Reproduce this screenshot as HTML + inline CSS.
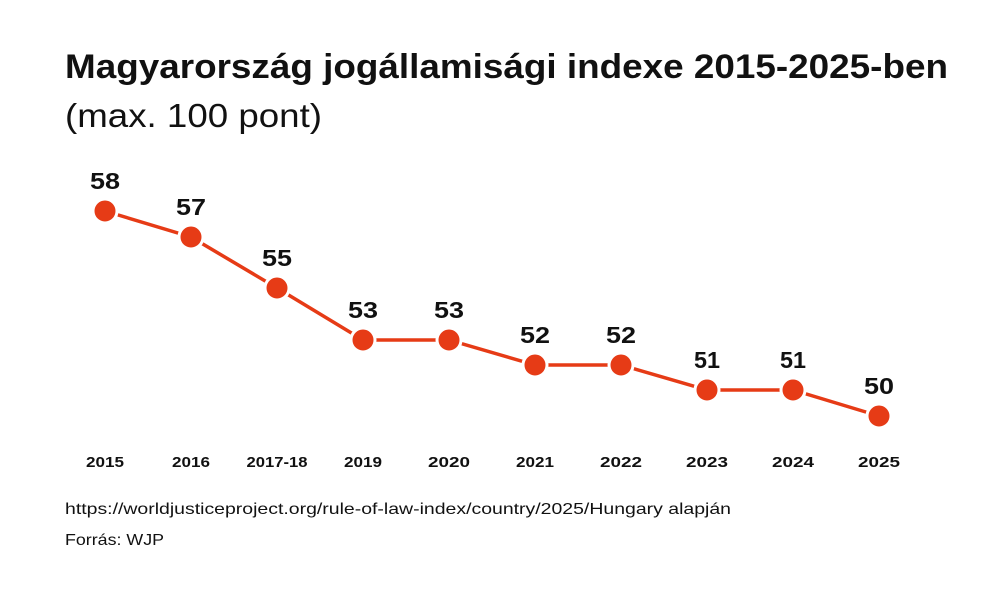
<!DOCTYPE html>
<html><head><meta charset="utf-8"><style>
body{margin:0;background:#fff;}
svg{display:block;font-family:"Liberation Sans",sans-serif;}
</style></head><body>
<svg width="1004" height="593" viewBox="0 0 1004 593" xmlns="http://www.w3.org/2000/svg">
<rect width="1004" height="593" fill="#fff"/>
<text x="65" y="78" font-size="34" font-weight="bold" fill="#111" textLength="883" lengthAdjust="spacingAndGlyphs">Magyarország jogállamisági indexe 2015-2025-ben</text>
<text x="65" y="127" font-size="33" fill="#111" textLength="257" lengthAdjust="spacingAndGlyphs">(max. 100 pont)</text>
<polyline fill="none" stroke="#e63b16" stroke-width="3.5" points="105,211 191,237 277,288 363,340 449,340 535,365 621,365 707,390 793,390 879,416"/>
<g fill="#e63b16" stroke="#fff" stroke-width="3">
<circle cx="105" cy="211" r="12"/><circle cx="191" cy="237" r="12"/><circle cx="277" cy="288" r="12"/><circle cx="363" cy="340" r="12"/><circle cx="449" cy="340" r="12"/><circle cx="535" cy="365" r="12"/><circle cx="621" cy="365" r="12"/><circle cx="707" cy="390" r="12"/><circle cx="793" cy="390" r="12"/><circle cx="879" cy="416" r="12"/>
</g>
<g font-size="23" font-weight="bold" fill="#111" text-anchor="middle">
<text x="105" y="189" textLength="30" lengthAdjust="spacingAndGlyphs">58</text><text x="191" y="215" textLength="30" lengthAdjust="spacingAndGlyphs">57</text><text x="277" y="266" textLength="30" lengthAdjust="spacingAndGlyphs">55</text><text x="363" y="318" textLength="30" lengthAdjust="spacingAndGlyphs">53</text><text x="449" y="318" textLength="30" lengthAdjust="spacingAndGlyphs">53</text><text x="535" y="343" textLength="30" lengthAdjust="spacingAndGlyphs">52</text><text x="621" y="343" textLength="30" lengthAdjust="spacingAndGlyphs">52</text><text x="707" y="368" textLength="26" lengthAdjust="spacingAndGlyphs">51</text><text x="793" y="368" textLength="26" lengthAdjust="spacingAndGlyphs">51</text><text x="879" y="394" textLength="30" lengthAdjust="spacingAndGlyphs">50</text>
</g>
<g font-size="15" font-weight="bold" fill="#111" text-anchor="middle">
<text x="105" y="467" textLength="38" lengthAdjust="spacingAndGlyphs">2015</text><text x="191" y="467" textLength="38" lengthAdjust="spacingAndGlyphs">2016</text><text x="277" y="467" textLength="61" lengthAdjust="spacingAndGlyphs">2017-18</text><text x="363" y="467" textLength="38" lengthAdjust="spacingAndGlyphs">2019</text><text x="449" y="467" textLength="42" lengthAdjust="spacingAndGlyphs">2020</text><text x="535" y="467" textLength="38" lengthAdjust="spacingAndGlyphs">2021</text><text x="621" y="467" textLength="42" lengthAdjust="spacingAndGlyphs">2022</text><text x="707" y="467" textLength="42" lengthAdjust="spacingAndGlyphs">2023</text><text x="793" y="467" textLength="42" lengthAdjust="spacingAndGlyphs">2024</text><text x="879" y="467" textLength="42" lengthAdjust="spacingAndGlyphs">2025</text>
</g>
<text x="65" y="514" font-size="16" fill="#111" textLength="666" lengthAdjust="spacingAndGlyphs">https://worldjusticeproject.org/rule-of-law-index/country/2025/Hungary alapján</text>
<text x="65" y="545" font-size="16" fill="#111" textLength="99" lengthAdjust="spacingAndGlyphs">Forrás: WJP</text>
</svg>
</body></html>
